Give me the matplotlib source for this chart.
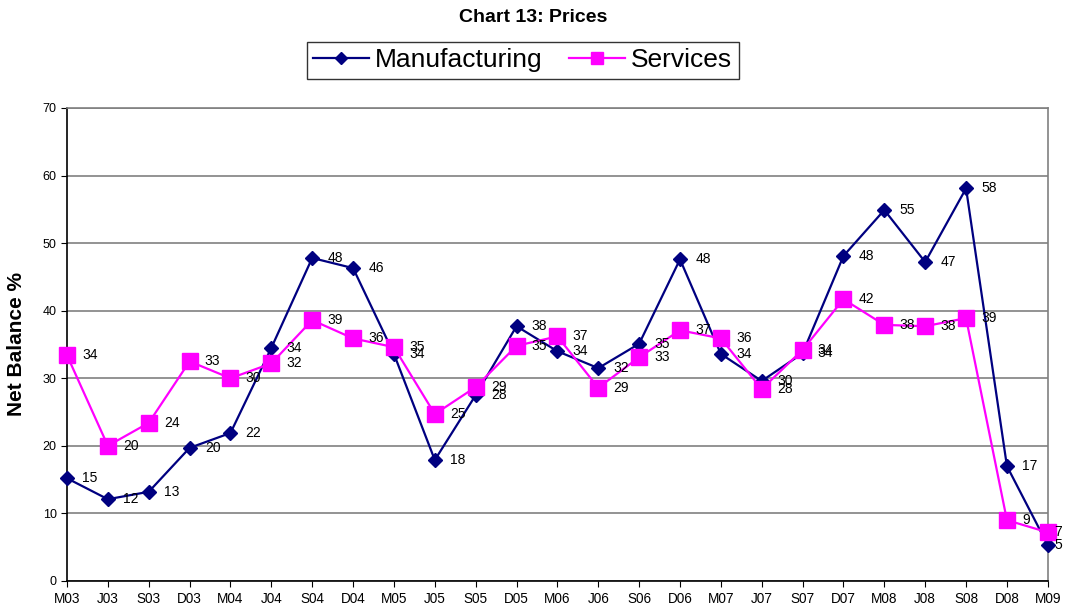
import numpy as np
import matplotlib.pyplot as plt

plt.rcParams['font.family'] = ['Liberation Sans', 'DejaVu Sans']

# -----------------------------
# Data
# -----------------------------
quarters = ["M03", "J03", "S03", "D03", "M04", "J04", "S04", "D04", "M05",
            "J05", "S05", "D05", "M06", "J06", "S06", "D06", "M07", "J07",
            "S07", "D07", "M08", "J08", "S08", "D08", "M09"]

manufacturing = [15.2, 12.1, 13.2, 19.7, 21.9, 34.5, 47.8, 46.3, 33.6,
                 17.9, 27.5, 37.7, 34.0, 31.5, 35.1, 47.6, 33.6, 29.6,
                 33.7, 48.1, 54.9, 47.2, 58.1, 17.0, 5.3]
manufacturing_labels = [15, 12, 13, 20, 22, 34, 48, 46, 34, 18, 28, 38, 34,
                        32, 35, 48, 34, 30, 34, 48, 55, 47, 58, 17, 5]

services = [33.4, 20.0, 23.4, 32.5, 30.0, 32.2, 38.6, 35.9, 34.6, 24.7,
            28.7, 34.8, 36.2, 28.6, 33.1, 37.1, 35.9, 28.4, 34.2, 41.7,
            37.9, 37.7, 38.9, 9.0, 7.2]
services_labels = [34, 20, 24, 33, 30, 32, 39, 36, 35, 25, 29, 35, 37, 29,
                   33, 37, 36, 28, 34, 42, 38, 38, 39, 9, 7]

navy = "#000080"
magenta = "#FF00FF"

# -----------------------------
# Figure
# -----------------------------
fig = plt.figure(figsize=(10.67, 6.09), dpi=100)
ax = fig.add_axes([0.0628, 0.046, 0.9192, 0.7767])

x = np.arange(len(quarters))

ax.plot(x, manufacturing, color=navy, linewidth=1.6, marker="D",
        markersize=7.5, markerfacecolor=navy, markeredgecolor=navy,
        label="Manufacturing", zorder=3, clip_on=False)
ax.plot(x, services, color=magenta, linewidth=1.6, marker="s",
        markersize=11, markerfacecolor=magenta, markeredgecolor=magenta,
        label="Services", zorder=4, clip_on=False)

# data labels (last point pulled in so it stays inside the figure)
last = len(quarters) - 1
for series, labels in [(manufacturing, manufacturing_labels),
                       (services, services_labels)]:
    for xi, yi, lab in zip(x, series, labels):
        dx = 4.5 if xi == last else 11
        ax.annotate(str(lab), (xi, yi), xytext=(dx, 0),
                    textcoords="offset points", ha="left", va="center",
                    fontsize=10, color="black", zorder=5)

# -----------------------------
# Axes styling
# -----------------------------
ax.set_xlim(0, last)
ax.set_ylim(0, 70)
ax.set_yticks(np.arange(0, 71, 10))
ax.set_xticks(x)
ax.set_xticklabels(quarters, fontsize=9.8)
ax.tick_params(axis="y", labelsize=9, length=4, direction="out")
ax.tick_params(axis="x", length=4, direction="out", pad=4)

ax.yaxis.grid(True, color="#808080", linewidth=1.2)
ax.set_axisbelow(True)

ax.spines["left"].set_color("black")
ax.spines["bottom"].set_color("black")
ax.spines["top"].set_color("#808080")
ax.spines["right"].set_color("#808080")
for s in ax.spines.values():
    s.set_linewidth(1.2)

ax.set_ylabel("Net Balance %", fontsize=15, fontweight="bold", labelpad=12)

fig.text(0.5, 0.972, "Chart 13: Prices", ha="center", va="center",
         fontsize=14, fontweight="bold")

leg = fig.legend(loc="center", bbox_to_anchor=(0.49, 0.9007), ncol=2,
                 fontsize=19, frameon=True, fancybox=False, edgecolor="black",
                 handlelength=2.1, columnspacing=1.0, borderpad=0.25,
                 handletextpad=0.25, markerscale=0.8)
leg.get_frame().set_linewidth(1.0)

plt.savefig("out.png", dpi=100)
plt.close()
